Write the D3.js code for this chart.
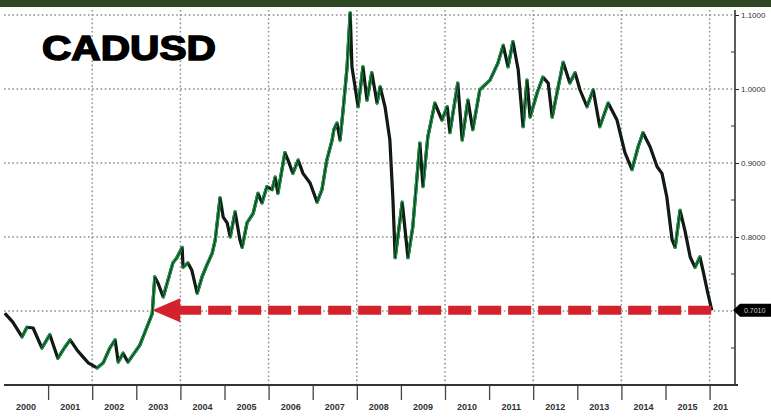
<!DOCTYPE html>
<html>
<head>
<meta charset="utf-8">
<script src="https://cdn.jsdelivr.net/npm/d3@7"></script>
<style>
  body { margin: 0; background: #fff; }
  svg { display: block; }
</style>
</head>
<body>
<div id="display"></div>
<script>
// chart data (decimal year, CAD in USD)
var years = [2000.02, 2000.20, 2000.41, 2000.52, 2000.66, 2000.86, 2001.04, 2001.22, 2001.38, 2001.50,
  2001.66, 2001.79, 2001.91, 2002.11, 2002.25, 2002.40, 2002.52, 2002.59, 2002.70, 2002.81,
  2002.93, 2003.08, 2003.24, 2003.36, 2003.42, 2003.49, 2003.61, 2003.72, 2003.83, 2003.92,
  2004.04, 2004.06, 2004.17, 2004.26, 2004.38, 2004.49, 2004.60, 2004.72, 2004.79, 2004.90,
  2004.97, 2005.06, 2005.13, 2005.24, 2005.35, 2005.40, 2005.51, 2005.65, 2005.76, 2005.85,
  2005.96, 2006.08, 2006.15, 2006.21, 2006.37, 2006.44, 2006.55, 2006.67, 2006.78, 2006.94,
  2007.10, 2007.21, 2007.32, 2007.44, 2007.48, 2007.55, 2007.62,
  2007.69, 2007.78, 2007.85, 2007.89, 2007.96, 2008.03, 2008.14, 2008.23, 2008.34, 2008.46,
  2008.53, 2008.64, 2008.75, 2008.82, 2008.87, 2008.98, 2009.03, 2009.16, 2009.27, 2009.43,
  2009.50, 2009.61, 2009.77, 2009.93, 2010.05, 2010.11, 2010.29, 2010.39, 2010.52, 2010.63,
  2010.79, 2011.02, 2011.20, 2011.32, 2011.43, 2011.54, 2011.66, 2011.77, 2011.86, 2011.93,
  2012.09, 2012.22, 2012.34, 2012.43, 2012.54, 2012.68, 2012.83, 2012.95, 2013.06, 2013.22,
  2013.36, 2013.51, 2013.70, 2013.90, 2014.08, 2014.24, 2014.38, 2014.49, 2014.65, 2014.81,
  2014.92, 2015.03, 2015.15, 2015.22, 2015.33, 2015.44, 2015.56, 2015.67, 2015.78, 2015.85,
  2015.96, 2016.05];
var cadusd = [0.697, 0.685, 0.665, 0.678, 0.677, 0.650, 0.668, 0.636, 0.651, 0.661,
  0.647, 0.638, 0.630, 0.623, 0.630, 0.650, 0.661, 0.631, 0.643, 0.631,
  0.641, 0.654, 0.678, 0.696, 0.746, 0.738, 0.719, 0.742, 0.765, 0.772,
  0.786, 0.759, 0.765, 0.755, 0.724, 0.746, 0.762, 0.778, 0.796, 0.853,
  0.827, 0.819, 0.800, 0.834, 0.796, 0.786, 0.819, 0.832, 0.859, 0.846,
  0.868, 0.864, 0.881, 0.859, 0.914, 0.904, 0.886, 0.904, 0.886, 0.873,
  0.847, 0.864, 0.904, 0.931, 0.945, 0.954, 0.931,
  0.972, 1.030, 1.103, 1.030, 1.003, 0.976, 1.030, 0.985, 1.022, 0.981,
  1.003, 0.976, 0.931, 0.850, 0.772, 0.823, 0.847, 0.772, 0.814, 0.927,
  0.868, 0.935, 0.981, 0.958, 0.976, 0.941, 1.008, 0.931, 0.985, 0.945,
  0.999, 1.012, 1.035, 1.059, 1.030, 1.064, 1.026, 0.949, 1.012, 0.962,
  0.995, 1.016, 1.008, 0.962, 0.995, 1.036, 1.008, 1.022, 0.999, 0.976,
  0.999, 0.949, 0.981, 0.958, 0.914, 0.891, 0.922, 0.941, 0.922, 0.895,
  0.886, 0.854, 0.796, 0.786, 0.836, 0.809, 0.773, 0.759, 0.773, 0.755,
  0.724, 0.701];

var yTickValues = [1.1, 1.0, 0.9, 0.8];
var yMinorValues = [1.05, 0.95, 0.85, 0.75, 0.65];
var gridYears = [2002, 2004, 2006, 2008, 2010, 2012, 2014, 2016];
var yearLabels = ["2000", "2001", "2002", "2003", "2004", "2005", "2006", "2007",
  "2008", "2009", "2010", "2011", "2012", "2013", "2014", "2015", "201"];
var arrowLevel = 0.701;      // level of the red arrow (2003 vs now)
var lastLabel = "0.7010";

var width = 771, height = 418;
var plot = {left: 4, right: 735, top: 10, bottom: 385};

var svg = d3.select("#display").append("svg")
  .attr("width", width).attr("height", height);

var x = d3.scaleLinear().domain([2000, 2016.576]).range([plot.left, plot.right]);
var y = d3.scaleLinear().domain([0.7, 1.1]).range([311, 15]);

// top banner
svg.append("rect").attr("x", 0).attr("y", 0).attr("width", width).attr("height", 7)
  .attr("fill", "#2e4823");

// grid
var dots = "1.6,2.6";
svg.append("g").selectAll("line").data(yTickValues.concat([0.7])).enter().append("line")
  .attr("x1", plot.left).attr("x2", plot.right)
  .attr("y1", function(d){ return y(d) }).attr("y2", function(d){ return y(d) })
  .attr("stroke", "#8f8f8f").attr("stroke-width", 1.5).attr("stroke-dasharray", dots);
svg.append("g").selectAll("line").data(gridYears).enter().append("line")
  .attr("x1", function(d){ return x(d) }).attr("x2", function(d){ return x(d) })
  .attr("y1", plot.top).attr("y2", plot.bottom)
  .attr("stroke", "#8f8f8f").attr("stroke-width", 1.5).attr("stroke-dasharray", dots);

// title
svg.append("text").attr("x", 42).attr("y", 60)
  .attr("font-family", "Liberation Sans, Arial, sans-serif")
  .attr("font-weight", "bold").attr("font-size", 35)
  .attr("textLength", 174).attr("lengthAdjust", "spacingAndGlyphs")
  .attr("stroke", "#000").attr("stroke-width", 1.5)
  .attr("fill", "#000").text("CADUSD");

// price line: rising legs green with dark core, falling legs black
var pts = years.map(function(d, i){ return [d, cadusd[i]] });
var seg = d3.line().x(function(d){ return x(d[0]) }).y(function(d){ return y(d[1]) });
var pairs = d3.pairs(pts);
svg.append("clipPath").attr("id", "clip").append("rect")
  .attr("x", plot.left).attr("y", plot.top)
  .attr("width", plot.right - plot.left).attr("height", plot.bottom - plot.top);
var lineG = svg.append("g").attr("clip-path", "url(#clip)");
lineG.append("path").attr("d", seg(pts)).attr("fill", "none")
  .attr("stroke", "#111").attr("stroke-width", 3.2).attr("stroke-linejoin", "round");
lineG.selectAll("path.up").data(pairs.filter(function(p){ return p[1][1] > p[0][1] }))
  .enter().append("path").attr("class", "up")
  .attr("d", function(p){ return seg(p) }).attr("fill", "none")
  .attr("stroke", "#1f9a4c").attr("stroke-width", 3.2).attr("stroke-linecap", "round");
lineG.append("path").attr("d", seg(pts)).attr("fill", "none")
  .attr("stroke", "#0b2a14").attr("stroke-width", 1).attr("stroke-linejoin", "round");

// red dashed arrow
var ay = y(arrowLevel);
var tipX = x(2003.36), endX = x(years[years.length - 1]);
svg.append("line").attr("x1", tipX + 26).attr("x2", endX)
  .attr("y1", ay).attr("y2", ay)
  .attr("stroke", "#d3222c").attr("stroke-width", 9)
  .attr("stroke-dasharray", "23,7");
svg.append("path")
  .attr("d", "M" + tipX + "," + ay + "L" + (tipX + 28) + "," + (ay - 12) +
    "L" + (tipX + 28) + "," + (ay + 12) + "Z")
  .attr("fill", "#d3222c");

// right axis
var yAxis = d3.axisRight(y).tickValues(yTickValues).tickSize(4)
  .tickFormat(d3.format(".4f"));
var ya = svg.append("g").attr("transform", "translate(" + plot.right + ",0)").call(yAxis);
ya.select(".domain").remove();
ya.selectAll("text").attr("x", 6).attr("font-family", "Liberation Sans, Arial, sans-serif")
  .attr("font-size", 8).attr("fill", "#333");
ya.selectAll("line").attr("stroke", "#222");
svg.append("line").attr("x1", plot.right).attr("x2", plot.right)
  .attr("y1", plot.top).attr("y2", plot.bottom).attr("stroke", "#333").attr("stroke-width", 1.6);
svg.append("g").selectAll("line").data(yMinorValues).enter().append("line")
  .attr("x1", plot.right - 4).attr("x2", plot.right)
  .attr("y1", function(d){ return y(d) }).attr("y2", function(d){ return y(d) })
  .attr("stroke", "#333");

// last price tag
var ly = y(cadusd[cadusd.length - 1]);
svg.append("path")
  .attr("d", "M" + (plot.right - 2) + "," + ly + "L" + (plot.right + 5) + "," + (ly - 6.5) +
    "H" + width + "V" + (ly + 6.5) + "H" + (plot.right + 5) + "Z")
  .attr("fill", "#000");
svg.append("text").attr("x", plot.right + 9).attr("y", ly + 2.5)
  .attr("font-family", "Liberation Sans, Arial, sans-serif").attr("font-size", 7)
  .attr("fill", "#ccc").text(lastLabel);

// bottom axis: year separators and labels
var sepYears = d3.range(2001, 2017);
var xAxis = d3.axisBottom(x).tickValues(sepYears).tickSize(15).tickFormat("");
var xa = svg.append("g").attr("transform", "translate(0," + plot.bottom + ")").call(xAxis);
xa.select(".domain").remove();
xa.selectAll("line").attr("stroke", "#444").attr("stroke-width", 1.3);
svg.append("line").attr("x1", plot.left).attr("x2", plot.right + 3)
  .attr("y1", plot.bottom).attr("y2", plot.bottom)
  .attr("stroke", "#333").attr("stroke-width", 2.2);
svg.append("g").selectAll("text").data(yearLabels).enter().append("text")
  .attr("x", function(d, i){ return i < 16 ? x(2000.5 + i) : x(2016) + 11 })
  .attr("y", 410).attr("text-anchor", "middle")
  .attr("font-family", "Liberation Sans, Arial, sans-serif").attr("font-size", 9)
  .attr("font-weight", "bold").attr("fill", "#333")
  .text(function(d){ return d });
</script>
</body>
</html>
